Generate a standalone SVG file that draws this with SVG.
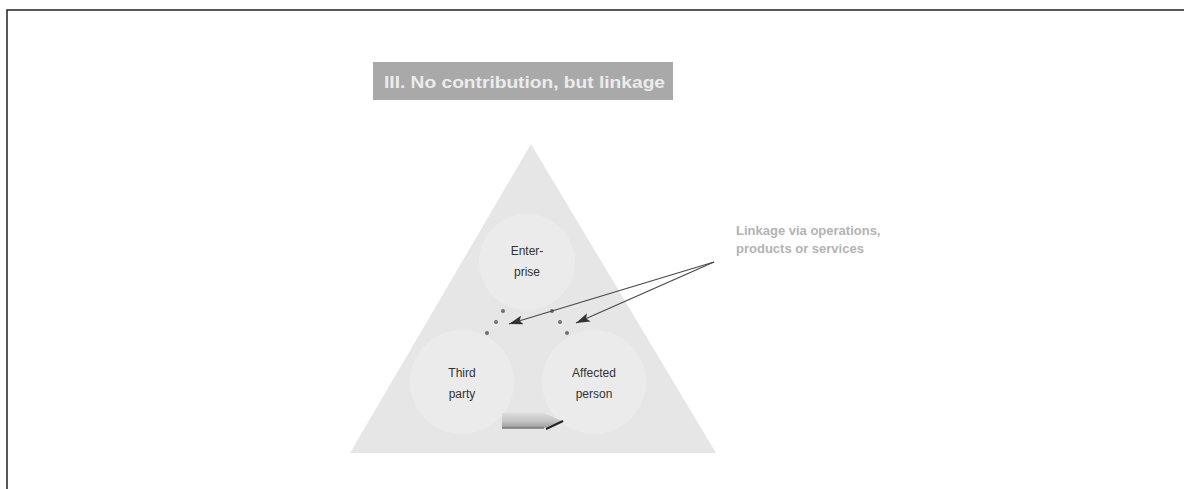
<svg xmlns="http://www.w3.org/2000/svg" width="1184" height="489" viewBox="0 0 1184 489">
<defs>
<style>
.lbl{font-family:"Liberation Sans",Arial,sans-serif;font-size:12px;fill:#333333;text-anchor:middle}
.conn{stroke:#4a4a4a;stroke-width:1.3;fill:none}
.dot{fill:#707070}
.circ{fill:#ebebeb}
</style>
<marker id="ah" viewBox="0 0 14 9" refX="14" refY="4.5" markerWidth="14" markerHeight="9" markerUnits="userSpaceOnUse" orient="auto">
<path d="M0,0 L14,4.5 L0,9 L3,4.5 z" fill="#333"/>
</marker>
<linearGradient id="ga" x1="0" y1="0" x2="0" y2="1">
<stop offset="0" stop-color="#dcdcdc"/>
<stop offset="0.55" stop-color="#c4c4c4"/>
<stop offset="1" stop-color="#999999"/>
</linearGradient>
</defs>
<rect width="1184" height="489" fill="#ffffff"/>
<path d="M7,489 L7,10 L1184,10" fill="none" stroke="#222" stroke-width="1.5"/>
<g id="title">
<rect x="373" y="62" width="300" height="38" fill="#a9a9a9"/>
<text x="384" y="88" font-family="Liberation Sans,Arial,sans-serif" font-weight="bold" font-size="17" fill="#ececec" textLength="281" lengthAdjust="spacingAndGlyphs">III. No contribution, but linkage</text>
</g>
<g id="triangle">
<polygon points="531,144 350,453 716,453" fill="#e6e6e6"/>
</g>
<g id="enterprise">
<circle class="circ" cx="527" cy="262" r="48"/>
<text class="lbl" x="527" y="255">Enter-</text>
<text class="lbl" x="527" y="276">prise</text>
</g>
<g id="third-party">
<circle class="circ" cx="462" cy="382" r="52"/>
<text class="lbl" x="462" y="377">Third</text>
<text class="lbl" x="462" y="398">party</text>
</g>
<g id="affected-person">
<circle class="circ" cx="594" cy="382" r="52"/>
<text class="lbl" x="594" y="377">Affected</text>
<text class="lbl" x="594" y="398">person</text>
</g>
<g id="linkage-label">
<text font-family="Liberation Sans,Arial,sans-serif" font-weight="bold" font-size="13" fill="#b3b3b3">
<tspan x="736" y="235">Linkage via operations,</tspan>
<tspan x="736" y="253">products or services</tspan>
</text>
</g>
<g id="dots">
<circle class="dot" cx="503" cy="311" r="2"/>
<circle class="dot" cx="496" cy="322" r="2"/>
<circle class="dot" cx="487" cy="333" r="2"/>
<circle class="dot" cx="552" cy="311" r="2"/>
<circle class="dot" cx="560" cy="322" r="2"/>
<circle class="dot" cx="567" cy="333" r="2"/>
</g>
<g id="connectors">
<line class="conn" x1="714" y1="262" x2="509" y2="324" marker-end="url(#ah)"/>
<line class="conn" x1="714" y1="262" x2="576" y2="323" marker-end="url(#ah)"/>
<g id="flow-arrow">
<path d="M502,413 L544,413 L562,421 L544,428 L502,428 z" fill="url(#ga)"/>
<path d="M502,428 L544,428" fill="none" stroke="#777" stroke-width="1.5"/>
<path d="M546,429 L563,421" fill="none" stroke="#222" stroke-width="2"/>
</g>
</g>
</svg>
